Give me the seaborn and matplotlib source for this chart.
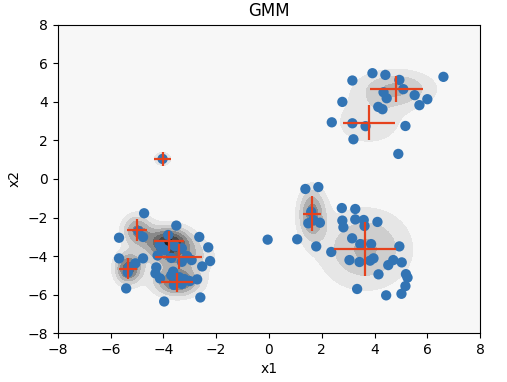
import numpy as np
import matplotlib.pyplot as plt
import seaborn as sns

# observed points
x1 = [-5.68, -4.73, -4.95, -4.77, -3.51, -2.64, -2.30, -2.23, -2.53, -2.72,
      -2.60, -3.97, -5.41, -5.68, -4.77, -5.06, -5.30, -5.35, -4.27, -4.30,
      -4.13, -4.22, -2.93, -3.63, -4.13, -3.94, -3.63, -3.82, -3.55, -3.30,
      -4.05, -3.70, -3.30, -3.10, -3.70, -3.40, -3.20, -3.00, -3.60, -3.30,
      -4.03,
      1.38, 1.87, 1.60, 1.49, 1.93, 1.68, 1.07, 1.79, 2.36, 2.76,
      3.27, 2.78, 2.82, 3.27, 3.59, 3.62, 4.11, 3.15, 3.46, 3.87,
      4.94, 3.05, 3.43, 3.83, 3.96, 4.52, 4.71, 5.03, 4.15, 5.19,
      5.25, 5.17, 5.02, 4.44, 3.34, -0.05,
      3.16, 3.92, 4.41, 4.94, 5.09, 4.34, 4.46, 5.52, 6.00, 5.70,
      6.61, 2.78, 4.14, 4.30, 2.38, 3.16, 3.66, 5.17, 3.20, 4.90]
x2 = [-3.05, -1.78, -2.70, -3.01, -2.42, -3.01, -3.55, -4.26, -4.54, -5.21,
      -6.15, -6.36, -5.68, -4.12, -4.12, -4.38, -4.60, -4.85, -4.59, -4.90,
      -5.16, -3.97, -4.21, -4.81, -3.43, -3.69, -3.43, -2.91, -3.50, -3.60,
      -3.60, -4.10, -4.30, -4.00, -5.00, -5.10, -5.20, -5.30, -5.50, -5.45,
      1.04,
      -0.52, -0.42, -1.70, -2.30, -2.27, -2.13, -3.13, -3.50, -3.79, -1.51,
      -1.56, -2.16, -2.51, -2.10, -2.13, -2.44, -2.23, -3.08, -3.38, -3.38,
      -3.50, -4.21, -4.31, -4.24, -4.12, -4.47, -4.21, -4.33, -4.95, -4.94,
      -5.12, -5.56, -5.96, -6.04, -5.71, -3.15,
      5.11, 5.49, 5.40, 5.14, 4.66, 4.50, 4.19, 4.35, 4.14, 3.83,
      5.30, 4.00, 3.74, 3.62, 2.94, 2.89, 2.74, 2.75, 2.06, 1.30]

# fitted components
mean_x1 = [4.82, 3.78, 1.63, 3.65, -5.00, -3.80, -3.42, -3.48, -5.33, -4.03]
mean_x2 = [4.68, 2.93, -1.80, -3.64, -2.65, -3.22, -4.03, -5.37, -4.66, 1.04]
std_x1 = [1.01, 0.99, 0.35, 1.18, 0.39, 0.57, 0.88, 0.60, 0.34, 0.32]
std_x2 = [0.67, 0.91, 0.92, 1.41, 0.56, 0.52, 0.63, 0.50, 0.55, 0.35]
weights = [0.12, 0.09, 0.08, 0.30, 0.05, 0.10, 0.10, 0.09, 0.06, 0.01]

fig, ax = plt.subplots(figsize=(5.07, 3.82), dpi=100)
fig.subplots_adjust(left=0.114, right=0.947, top=0.935, bottom=0.128)
ax.set_facecolor('#f7f7f7')

g1, g2 = np.meshgrid(np.linspace(-8, 8, 300), np.linspace(-8, 8, 300))
dens = np.zeros_like(g1)
for mx, my, sx, sy, w in zip(mean_x1, mean_x2, std_x1, std_x2, weights):
    dens += w / (2 * np.pi * sx * sy) * np.exp(-0.5 * (((g1 - mx) / sx) ** 2 + ((g2 - my) / sy) ** 2))

levels = np.arange(0.009, 0.1, 0.009)
ax.contourf(g1, g2, dens, levels=levels, cmap='Greys', vmin=0, vmax=0.075, extend='max')

sns.scatterplot(x=x1, y=x2, ax=ax, s=55, color='#3274b4', edgecolor='none', zorder=3)
ax.errorbar(mean_x1, mean_x2, xerr=std_x1, yerr=std_x2, fmt='none',
            ecolor='#e5421d', elinewidth=1.6, zorder=4)

ax.set_xlim(-8, 8)
ax.set_ylim(-8, 8)
ax.set_xticks(range(-8, 9, 2))
ax.set_yticks(range(-8, 9, 2))
ax.set_title('GMM')
ax.set_xlabel('x1')
ax.set_ylabel('x2')

fig.savefig('out.png', dpi=100)
